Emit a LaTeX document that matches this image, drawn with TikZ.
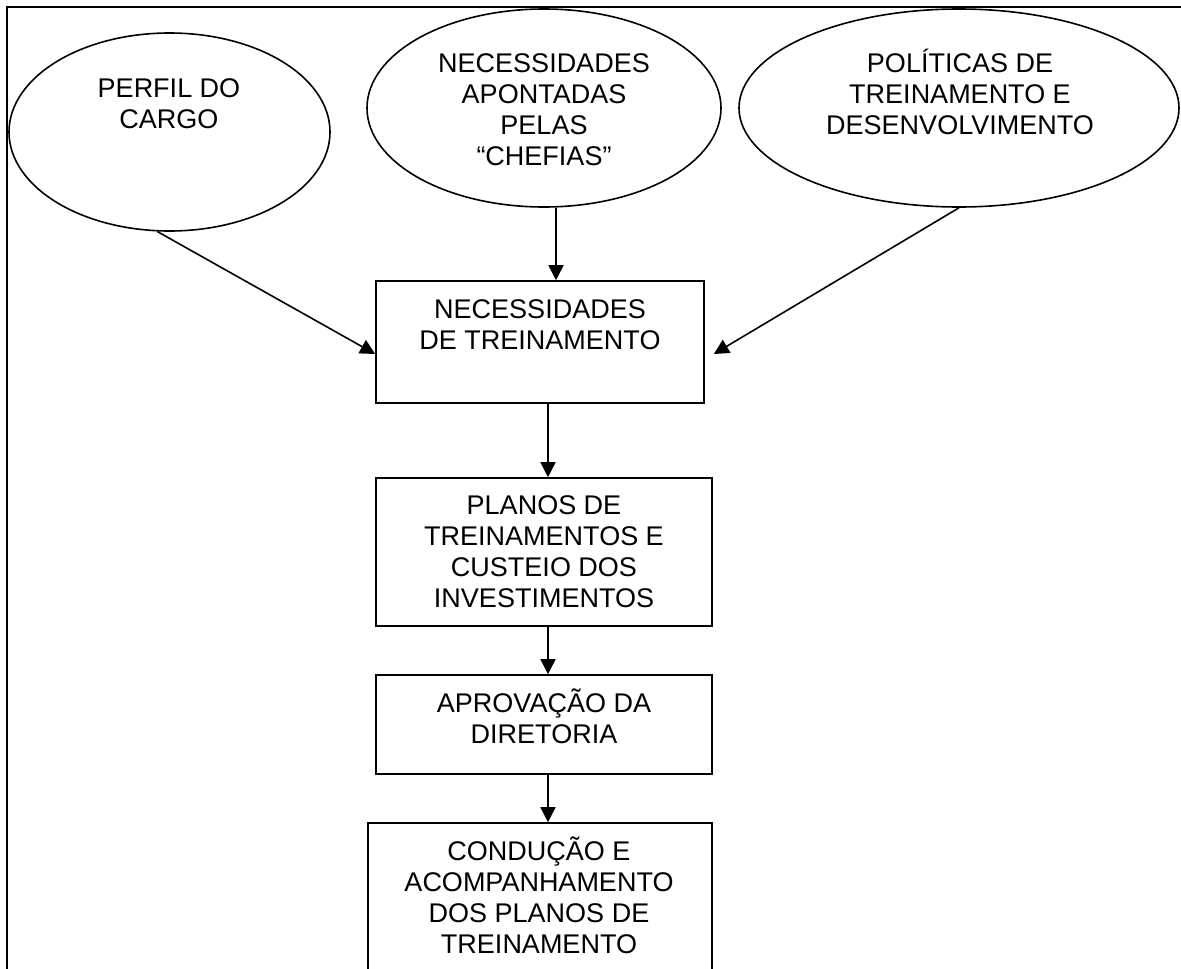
\documentclass[tikz,border=0pt]{standalone}
\usepackage{fontspec}
\setmainfont{Liberation Sans}
\usepackage{tikz}
\usetikzlibrary{shapes.geometric,arrows.meta,positioning}

\begin{document}
\begin{tikzpicture}[x=1pt,y=-1pt,
    oval/.style={draw, ellipse, line width=1.6pt, inner sep=0pt},
    caixa/.style={draw, rectangle, line width=1.6pt, inner sep=0pt},
    texto/.style={anchor=base, align=center, inner sep=0pt,
        font=\fontsize{27}{31}\selectfont},
    seta/.style={line width=1.6pt, -{Triangle[length=15pt,width=15pt]}}]
    \useasboundingbox (0,0) rectangle (1181,969);
    \clip (0,0) rectangle (1181,969);
    \draw[line width=2.2pt] (7,7) rectangle (1220,1020);

    \node[oval, minimum width=321pt, minimum height=198pt] (perfil) at (169.5,132) {};
    \node[oval, minimum width=354pt, minimum height=198pt] (chefias) at (544,108) {};
    \node[oval, minimum width=440pt, minimum height=198pt] (politicas) at (959,108) {};

    \node[texto] (perfilT) at (169,128) {PERFIL DO\\CARGO};
    \node[texto] (chefiasT) at (544,165) {NECESSIDADES\\APONTADAS\\PELAS\\“CHEFIAS”};
    \node[texto] (politicasT) at (960,134) {POLÍTICAS DE\\TREINAMENTO E\\DESENVOLVIMENTO};

    \node[caixa, minimum width=328pt, minimum height=122pt] (necess) at (540,342) {};
    \node[caixa, minimum width=336pt, minimum height=148pt] (planos) at (544,552) {};
    \node[caixa, minimum width=336pt, minimum height=99pt] (aprov) at (544,724.5) {};
    \node[caixa, minimum width=344pt, minimum height=200pt] (conducao) at (540,923) {};

    \node[texto] (necessT) at (540,349) {NECESSIDADES\\DE TREINAMENTO};
    \node[texto] (planosT) at (544,607) {PLANOS DE\\TREINAMENTOS E\\CUSTEIO DOS\\INVESTIMENTOS};
    \node[texto] (aprovT) at (544,743) {APROVAÇÃO DA\\DIRETORIA};
    \node[texto] (conducaoT) at (539,953) {CONDUÇÃO E\\ACOMPANHAMENTO\\DOS PLANOS DE\\TREINAMENTO};

    \draw[seta] (perfil.263) -- ([yshift=-12pt]necess.west);
    \draw[seta] ([xshift=12pt]chefias.south) -- ([xshift=16pt]necess.north);
    \draw[seta] (politicas.south) -- ([shift={(9pt,-12pt)}]necess.east);
    \draw[seta] ([xshift=8pt]necess.south) -- ([xshift=4pt]planos.north);
    \draw[seta] ([xshift=4pt]planos.south) -- ([xshift=4pt]aprov.north);
    \draw[seta] ([xshift=4pt]aprov.south) -- ([xshift=8pt]conducao.north);
\end{tikzpicture}
\end{document}
